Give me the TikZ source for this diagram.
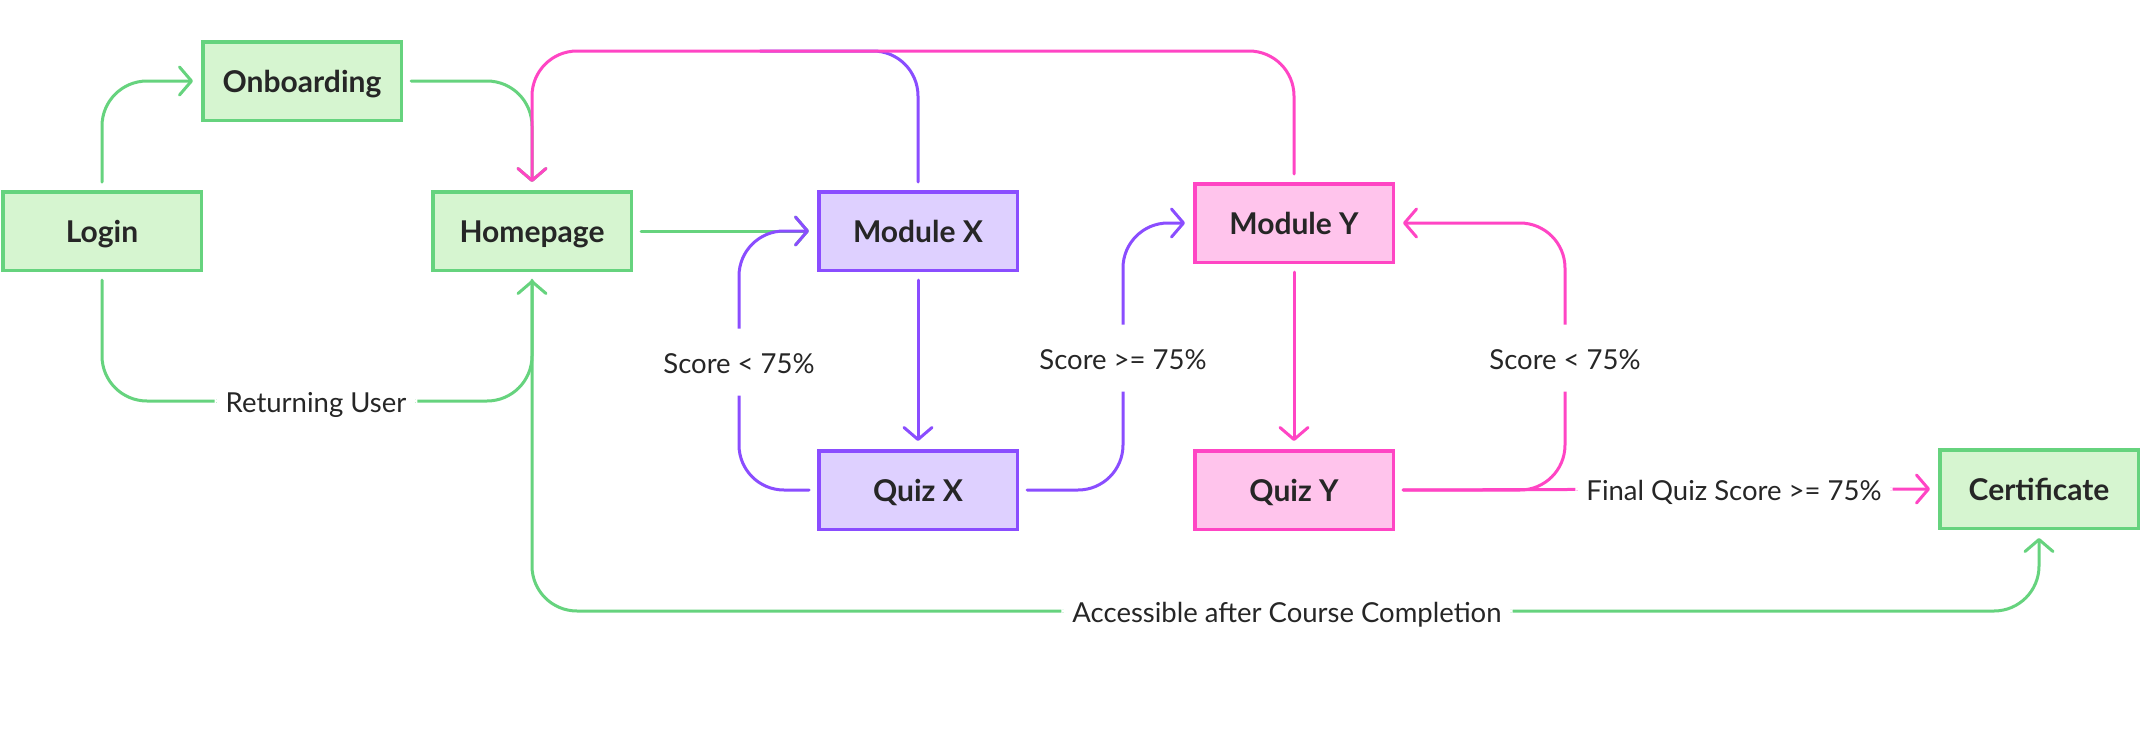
\documentclass[tikz,border=0pt]{standalone}
\usepackage{fontspec}
\setmainfont{Lato}
\usetikzlibrary{arrows.meta}
\definecolor{gstroke}{HTML}{66D37E}
\definecolor{gfill}{HTML}{D6F5D0}
\definecolor{pstroke}{HTML}{8A4DFF}
\definecolor{pfill}{HTML}{DED0FF}
\definecolor{kstroke}{HTML}{FF45C4}
\definecolor{kfill}{HTML}{FFC4EC}
\definecolor{ink}{HTML}{262626}
\begin{document}
\begin{tikzpicture}[x=1pt,y=-1pt,
  box/.style={draw, line width=3.5pt, minimum width=198.5pt, minimum height=78.5pt, inner sep=0pt,
    text height=26pt, text depth=3pt,
    font=\fontsize{30}{34}\selectfont\bfseries, text=ink},
  gbox/.style={box, draw=gstroke, fill=gfill},
  pbox/.style={box, draw=pstroke, fill=pfill},
  kbox/.style={box, draw=kstroke, fill=kfill},
  conn/.style={line width=3pt, rounded corners=45pt, line cap=round, line join=round,
    shorten <=8pt, shorten >=8pt},
  arr/.style={conn, -{Straight Barb[length=12pt,width=28pt,round]}},
  garr/.style={arr, draw=gstroke},
  parr/.style={arr, draw=pstroke},
  karr/.style={arr, draw=kstroke},
  pconn/.style={conn, draw=pstroke},
  lbl/.style={fill=white, inner xsep=11pt, inner ysep=20pt, text height=25pt, text depth=2pt,
    font=\fontsize{27.5}{31}\selectfont, text=ink}
]
\useasboundingbox (0,0) rectangle (2142,737);

\node[gbox] (login) at (102,231) {Login};
\node[gbox] (onb) at (302,81) {Onboarding};
\node[gbox] (home) at (532,231) {Homepage};
\node[pbox] (modx) at (918,231) {Module X};
\node[kbox] (mody) at (1294,223) {Module Y};
\node[pbox] (quizx) at (918,490) {Quiz X};
\node[kbox] (quizy) at (1294,490) {Quiz Y};
\node[gbox] (cert) at (2039,489) {Certificate};

\coordinate (topline) at (0,51);
\coordinate (pj) at (760,51);
\coordinate (ru) at (316,401);
\coordinate (lx) at (739,362);
\coordinate (rx) at (1123,358);
\coordinate (ry) at (1565,358);
\coordinate (fq) at (1734,489);
\coordinate (acc) at (1287,611);

% green
\draw[garr] (login.north) |- (onb.west);
\draw[garr] (onb.east) -| (home.north);
\draw[garr] (login.south) |- (ru) node[lbl]{Returning User} -| (home.south);
\draw[garr] (home.south) |- (acc) node[lbl]{Accessible after Course Completion} -| (cert.south);
\draw[garr] (home.east) -- (modx.west);

% purple
\draw[pconn, shorten >=0pt] (modx.north) |- (pj);
\draw[parr] (modx.south) -- (quizx.north);
\draw[parr] (quizx.west) -| (lx) node[lbl]{Score < 75\%} |- (modx.west);
\draw[parr] (quizx.east) -| (rx) node[lbl]{Score >= 75\%} |- (mody.west);

% pink
\draw[karr] (mody.north) -- (mody.north |- topline) -- (home.north |- topline) -- (home.north);
\draw[karr] (mody.south) -- (quizy.north);
\draw[karr] (quizy.east) -- (fq) node[lbl]{Final Quiz Score >= 75\%} -- (cert.west);
\draw[karr] (quizy.east) -| (ry) node[lbl]{Score < 75\%} |- (mody.east);
\end{tikzpicture}
\end{document}
